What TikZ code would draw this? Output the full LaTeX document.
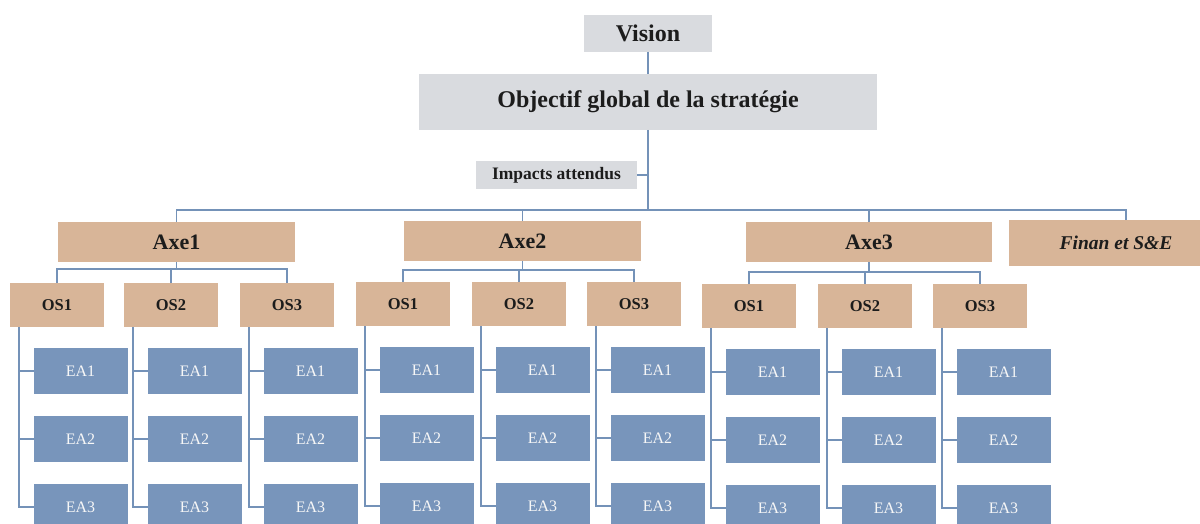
\documentclass[tikz,border=0pt]{standalone}
\usepackage{fontspec}
\setmainfont{Liberation Serif}
\usetikzlibrary{calc}
\definecolor{gboxc}{HTML}{D9DBDF}
\definecolor{tanc}{HTML}{D8B598}
\definecolor{eac}{HTML}{7895BB}
\definecolor{linec}{HTML}{7492B8}
\definecolor{txtc}{HTML}{1C1C1C}
\tikzset{
  base/.style={inner sep=0pt, outer sep=0pt, align=center, text=txtc},
  gbox/.style={base, fill=gboxc, font=\bfseries\fontsize{24}{28}\selectfont},
  axebox/.style={base, fill=tanc, minimum height=40, font=\bfseries\fontsize{22}{26}\selectfont},
  osbox/.style={base, fill=tanc, minimum width=94, minimum height=44, font=\bfseries\fontsize{16.5}{20}\selectfont},
  eabox/.style={base, fill=eac, minimum width=94, minimum height=46, text=white!94!gray, font=\fontsize{16}{19}\selectfont},
  conn/.style={draw=linec, line width=1.7pt},
}
\newcommand{\osgroup}[4]{% #1 prefix, #2 OS left x, #3 OS center y, #4 label
  \node[osbox] (#1) at (#2+47,#3) {#4};
  \node[eabox] (#1e1) at (#2+70.5,#3+66) {EA1};
  \node[eabox] (#1e2) at (#2+70.5,#3+134) {EA2};
  \node[eabox] (#1e3) at (#2+70.5,#3+202) {EA3};
  \draw[conn] ([xshift=-38]#1.south) |- (#1e3.west);
  \draw[conn] (#1e1.west) -- ++(-14.5,0);
  \draw[conn] (#1e2.west) -- ++(-14.5,0);
}
\begin{document}
\begin{tikzpicture}[x=1pt,y=-1pt]
\path[use as bounding box] (0,0) rectangle (1200,524);
\clip (0,0) rectangle (1200,524);
\fill[white] (0,0) rectangle (1200,524);
% top
\node[gbox, minimum width=128, minimum height=37] (vision) at (648,33.5) {Vision};
\node[gbox, minimum width=458, minimum height=56] (obj) at (648,102) {Objectif global de la stratégie};
\node[gbox, minimum width=161, minimum height=28, font=\bfseries\fontsize{17.5}{20}\selectfont] (imp) at (556.5,175) {Impacts attendus};
\draw[conn] (vision) -- (obj);
\draw[conn] (imp.east) -- (imp.east -| obj.south);
% axes
\node[axebox, minimum width=237] (axe1) at (176.5,242) {Axe1};
\node[axebox, minimum width=237] (axe2) at (522.5,241) {Axe2};
\node[axebox, minimum width=246] (axe3) at (869,242) {Axe3};
\node[axebox, minimum width=214, minimum height=46, font=\bfseries\itshape\fontsize{19.5}{23}\selectfont] (fin) at (1116,243) {Finan et S\&E};
\coordinate (bus) at ($(obj.south)+(0,80)$);
\draw[conn] (obj.south) -- (bus);
\draw[conn] (axe1.north) |- (bus) -| ([xshift=10]fin.north);
\draw[conn] (axe2.north) -- (axe2.north |- bus);
\draw[conn] (axe3.north) -- (axe3.north |- bus);
% OS groups
\osgroup{a}{10}{305}{OS1}
\osgroup{b}{124}{305}{OS2}
\osgroup{c}{240}{305}{OS3}
\osgroup{d}{356}{304}{OS1}
\osgroup{e}{472}{304}{OS2}
\osgroup{f}{587}{304}{OS3}
\osgroup{g}{702}{306}{OS1}
\osgroup{h}{818}{306}{OS2}
\osgroup{i}{933}{306}{OS3}
% axe to OS connectors
\draw[conn] (axe1.south) -- ++(0,7) coordinate (s1);
\draw[conn] (a.north) |- (s1) -| (c.north);
\draw[conn] (b.north) -- (b.north |- s1);
\draw[conn] (axe2.south) -- ++(0,9) coordinate (s2);
\draw[conn] (d.north) |- (s2) -| (f.north);
\draw[conn] (e.north) -- (e.north |- s2);
\draw[conn] (axe3.south) -- ++(0,10) coordinate (s3);
\draw[conn] (g.north) |- (s3) -| (i.north);
\draw[conn] (h.north) -- (h.north |- s3);
\end{tikzpicture}
\end{document}
